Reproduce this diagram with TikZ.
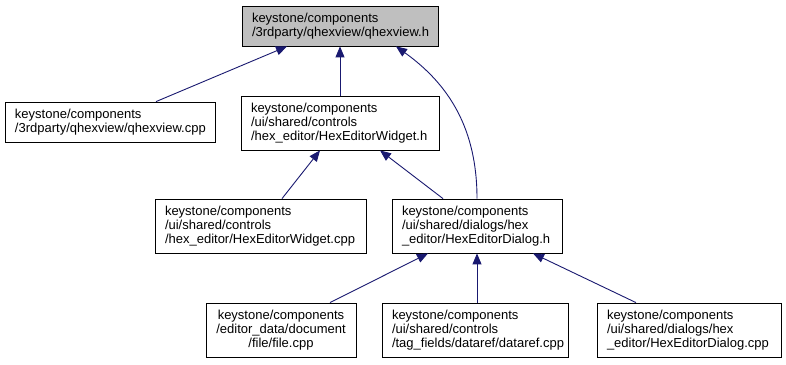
\documentclass[tikz,border=0pt]{standalone}
\usepackage{fontspec}
\setmainfont{Liberation Sans}
\usetikzlibrary{arrows.meta,calc}
\begin{document}
\begin{tikzpicture}[x=1bp,y=-1bp,
  box/.style={draw=black, line width=0.8bp, fill=white, align=left, inner xsep=10bp, inner ysep=0bp,
    font=\fontsize{13bp}{14bp}\selectfont},
  rootbox/.style={box, fill=black!25},
  edge/.style={draw={rgb,255:red,25;green,25;blue,112}, line width=0.9bp,
    {Triangle[length=11bp,width=9bp]}-}]
\useasboundingbox (0,0) rectangle (786,364);
\fill[white] (0,0) rectangle (786,364);
\node[rootbox, text width=176bp, minimum height=40bp] (root) at (340,26) {keystone/components\\/3rdparty/qhexview/qhexview.h};
\node[box, text width=190bp, minimum height=40bp] (qcpp) at (110,122) {keystone/components\\/3rdparty/qhexview/qhexview.cpp};
\node[box, text width=178bp, minimum height=54bp] (wh) at (340,123) {keystone/components\\/ui/shared/controls\\/hex\_editor/HexEditorWidget.h};
\node[box, text width=191bp, minimum height=54bp] (wcpp) at (260.5,226) {keystone/components\\/ui/shared/controls\\/hex\_editor/HexEditorWidget.cpp};
\node[box, text width=150bp, minimum height=54bp] (dh) at (477,226) {keystone/components\\/ui/shared/dialogs/hex\\\_editor/HexEditorDialog.h};
\node[box, align=center, text width=130bp, minimum height=54bp] (file) at (281,330) {keystone/components\\/editor\_data/document\\/file/file.cpp};
\node[box, text width=166bp, minimum height=54bp] (dref) at (475,330) {keystone/components\\/ui/shared/controls\\/tag\_fields/dataref/dataref.cpp};
\node[box, text width=164bp, minimum height=54bp] (dcpp) at (689,330) {keystone/components\\/ui/shared/dialogs/hex\\\_editor/HexEditorDialog.cpp};
\draw[edge] ($(root.south)+(-53,0)$) -- ($(qcpp.north)+(46,0)$);
\draw[edge] (root.south) -- (wh.north);
\draw[edge] ($(root.south)+(56,0)$) .. controls (450,85) and (477,130) .. (dh.north);
\draw[edge] ($(wh.south)+(-20,0)$) -- ($(wcpp.north)+(21.5,0)$);
\draw[edge] ($(wh.south)+(40,0)$) -- ($(dh.north)+(-34,0)$);
\draw[edge] ($(dh.south)+(-49,0)$) -- ($(file.north)+(49,0)$);
\draw[edge] (dh.south) -- (dh.south |- dref.north);
\draw[edge] ($(dh.south)+(56,0)$) -- ($(dcpp.north)+(-53,0)$);
\end{tikzpicture}
\end{document}
